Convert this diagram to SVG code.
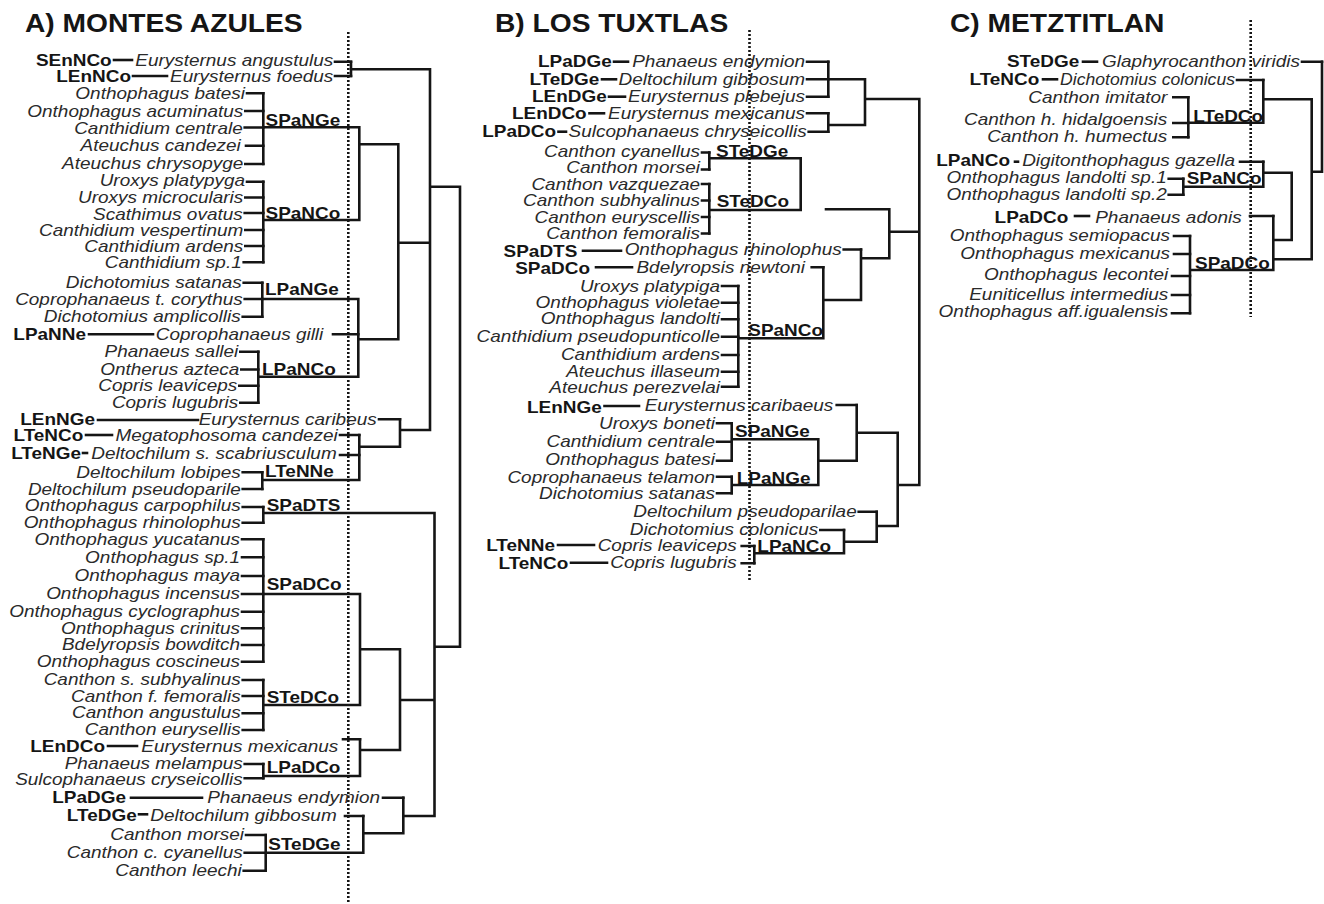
<svg xmlns="http://www.w3.org/2000/svg" width="1324" height="904" viewBox="0 0 1324 904">
<style>
text{font-family:"Liberation Sans",Arial,sans-serif;font-size:16.5px}
.sp{font-style:italic;fill:#2a2a2a;text-anchor:end}
.lb{font-weight:bold;fill:#151515}
.le{text-anchor:end}
.tt{font-weight:bold;font-size:25px;fill:#151515}
.ln{fill:none;stroke:#151515;stroke-width:2.6;stroke-linecap:square}
.dot{fill:none;stroke:#151515;stroke-width:2.6;stroke-dasharray:2 2}
</style>
<rect width="1324" height="904" fill="#fff"/>

<!-- ================= PANEL A ================= -->
<g id="panelA">
<text class="tt" transform="translate(25 32) scale(1.128 1)">A) MONTES AZULES</text>
<path class="dot" d="M348.3 32V904"/>
<g id="A01"><text class="lb le" transform="translate(111.7 65.5) scale(1.149 1)">SEnNCo</text><path class="ln" d="M114 60H132"/><text class="sp" transform="translate(333.3 65.5) scale(1.149 1)">Eurysternus angustulus</text></g>
<g id="A02"><text class="lb le" transform="translate(131 81.7) scale(1.149 1)">LEnNCo</text><path class="ln" d="M133 76H167"/><text class="sp" transform="translate(333.3 81.7) scale(1.149 1)">Eurysternus foedus</text></g>
<g id="A03"><text class="sp" transform="translate(245 98.8) scale(1.149 1)">Onthophagus batesi</text></g>
<g id="A04"><text class="sp" transform="translate(243.3 116.5) scale(1.149 1)">Onthophagus acuminatus</text></g>
<g id="A05"><text class="sp" transform="translate(242.7 133.5) scale(1.149 1)">Canthidium centrale</text></g>
<g id="A06"><text class="sp" transform="translate(240.7 151.2) scale(1.149 1)">Ateuchus candezei</text></g>
<g id="A07"><text class="sp" transform="translate(243.3 168.5) scale(1.149 1)">Ateuchus chrysopyge</text></g>
<g id="A08"><text class="sp" transform="translate(245 186.2) scale(1.149 1)">Uroxys platypyga</text></g>
<g id="A09"><text class="sp" transform="translate(243.3 203) scale(1.149 1)">Uroxys microcularis</text></g>
<g id="A10"><text class="sp" transform="translate(242.7 219.5) scale(1.149 1)">Scathimus ovatus</text></g>
<g id="A11"><text class="sp" transform="translate(243.3 235.5) scale(1.149 1)">Canthidium vespertinum</text></g>
<g id="A12"><text class="sp" transform="translate(243.3 251.5) scale(1.149 1)">Canthidium ardens</text></g>
<g id="A13"><text class="sp" transform="translate(241.7 267.8) scale(1.149 1)">Canthidium sp.1</text></g>
<g id="A14"><text class="sp" transform="translate(241.7 288.2) scale(1.149 1)">Dichotomius satanas</text></g>
<g id="A15"><text class="sp" transform="translate(242.7 304.5) scale(1.149 1)">Coprophanaeus t. corythus</text></g>
<g id="A16"><text class="sp" transform="translate(240.7 322.2) scale(1.149 1)">Dichotomius amplicollis</text></g>
<g id="A17"><text class="lb le" transform="translate(86 339.8) scale(1.149 1)">LPaNNe</text><path class="ln" d="M89 334.3H153"/><text class="sp" transform="translate(323.3 339.8) scale(1.149 1)">Coprophanaeus gilli</text></g>
<g id="A18"><text class="sp" transform="translate(238.3 357.2) scale(1.149 1)">Phanaeus sallei</text></g>
<g id="A19"><text class="sp" transform="translate(239.3 374.5) scale(1.149 1)">Ontherus azteca</text></g>
<g id="A20"><text class="sp" transform="translate(237.3 391.2) scale(1.149 1)">Copris leaviceps</text></g>
<g id="A21"><text class="sp" transform="translate(238.3 408.2) scale(1.149 1)">Copris lugubris</text></g>
<g id="A22"><text class="lb le" transform="translate(95 424.8) scale(1.149 1)">LEnNGe</text><path class="ln" d="M98 420H198"/><text class="sp" transform="translate(376.7 424.8) scale(1.149 1)">Eurysternus caribeus</text></g>
<g id="A23"><text class="lb le" transform="translate(83.3 441) scale(1.149 1)">LTeNCo</text><path class="ln" d="M86 435H112"/><text class="sp" transform="translate(337.7 441) scale(1.149 1)">Megatophosoma candezei</text></g>
<g id="A24"><text class="lb le" transform="translate(81 459) scale(1.149 1)">LTeNGe</text><path class="ln" d="M83 453H87"/><text class="sp" transform="translate(336.7 459) scale(1.149 1)">Deltochilum s. scabriusculum</text></g>
<g id="A25"><text class="sp" transform="translate(240.7 477.8) scale(1.149 1)">Deltochilum lobipes</text></g>
<g id="A26"><text class="sp" transform="translate(240.7 494.5) scale(1.149 1)">Deltochilum pseudoparile</text></g>
<g id="A27"><text class="sp" transform="translate(240.7 511.2) scale(1.149 1)">Onthophagus carpophilus</text></g>
<g id="A28"><text class="sp" transform="translate(240.7 528.2) scale(1.149 1)">Onthophagus rhinolophus</text></g>
<g id="A29"><text class="sp" transform="translate(240 544.8) scale(1.149 1)">Onthophagus yucatanus</text></g>
<g id="A30"><text class="sp" transform="translate(240 562.8) scale(1.149 1)">Onthophagus sp.1</text></g>
<g id="A31"><text class="sp" transform="translate(240 581) scale(1.149 1)">Onthophagus maya</text></g>
<g id="A32"><text class="sp" transform="translate(240 599) scale(1.149 1)">Onthophagus incensus</text></g>
<g id="A33"><text class="sp" transform="translate(240 616.7) scale(1.149 1)">Onthophagus cyclographus</text></g>
<g id="A34"><text class="sp" transform="translate(240 633.5) scale(1.149 1)">Onthophagus crinitus</text></g>
<g id="A35"><text class="sp" transform="translate(240 650.3) scale(1.149 1)">Bdelyropsis bowditch</text></g>
<g id="A36"><text class="sp" transform="translate(240 667.2) scale(1.149 1)">Onthophagus coscineus</text></g>
<g id="A37"><text class="sp" transform="translate(240.7 685) scale(1.149 1)">Canthon s. subhyalinus</text></g>
<g id="A38"><text class="sp" transform="translate(240.7 701.5) scale(1.149 1)">Canthon f. femoralis</text></g>
<g id="A39"><text class="sp" transform="translate(240.7 718.3) scale(1.149 1)">Canthon angustulus</text></g>
<g id="A40"><text class="sp" transform="translate(240.7 734.5) scale(1.149 1)">Canthon eurysellis</text></g>
<g id="A41"><text class="lb le" transform="translate(105 751.5) scale(1.149 1)">LEnDCo</text><path class="ln" d="M108 746H137"/><text class="sp" transform="translate(338.3 751.5) scale(1.149 1)">Eurysternus mexicanus</text></g>
<g id="A42"><text class="sp" transform="translate(242.7 769) scale(1.149 1)">Phanaeus melampus</text></g>
<g id="A43"><text class="sp" transform="translate(242.7 785) scale(1.149 1)">Sulcophanaeus cryseicollis</text></g>
<g id="A44"><text class="lb le" transform="translate(126 803.2) scale(1.149 1)">LPaDGe</text><path class="ln" d="M131 797.7H202"/><text class="sp" transform="translate(380 803.2) scale(1.149 1)">Phanaeus endymion</text></g>
<g id="A45"><text class="lb le" transform="translate(136.7 821) scale(1.149 1)">LTeDGe</text><path class="ln" d="M139 814.3H147"/><text class="sp" transform="translate(336.7 821) scale(1.149 1)">Deltochilum gibbosum</text></g>
<g id="A46"><text class="sp" transform="translate(244 839.5) scale(1.149 1)">Canthon morsei</text></g>
<g id="A47"><text class="sp" transform="translate(242.7 857.5) scale(1.149 1)">Canthon c. cyanellus</text></g>
<g id="A48"><text class="sp" transform="translate(241.7 875.7) scale(1.149 1)">Canthon leechi</text></g>
<g id="A-SPaNGe"><text class="lb" transform="translate(265.5 126) scale(1.149 1)">SPaNGe</text></g>
<g id="A-SPaNCo"><text class="lb" transform="translate(265.5 218.5) scale(1.149 1)">SPaNCo</text></g>
<g id="A-LPaNGe"><text class="lb" transform="translate(265 295) scale(1.149 1)">LPaNGe</text></g>
<g id="A-LPaNCo"><text class="lb" transform="translate(262 375) scale(1.149 1)">LPaNCo</text></g>
<g id="A-LTeNNe"><text class="lb" transform="translate(265 477) scale(1.149 1)">LTeNNe</text></g>
<g id="A-SPaDTS"><text class="lb" transform="translate(266.7 511) scale(1.149 1)">SPaDTS</text></g>
<g id="A-SPaDCo"><text class="lb" transform="translate(266.7 590) scale(1.149 1)">SPaDCo</text></g>
<g id="A-STeDCo"><text class="lb" transform="translate(266.7 702.5) scale(1.149 1)">STeDCo</text></g>
<g id="A-LPaDCo"><text class="lb" transform="translate(266.7 773) scale(1.149 1)">LPaDCo</text></g>
<g id="A-STeDGe"><text class="lb" transform="translate(268.3 850) scale(1.149 1)">STeDGe</text></g>
</g>

<!-- ================= PANEL B ================= -->
<g id="panelB">
<text class="tt" transform="translate(495 32) scale(1.128 1)">B) LOS TUXTLAS</text>
<path class="dot" d="M749.5 30V580"/>
<g id="B01"><text class="lb le" transform="translate(611.7 67) scale(1.149 1)">LPaDGe</text><path class="ln" d="M614 61.7H628"/><text class="sp" transform="translate(805 67) scale(1.149 1)">Phanaeus endymion</text></g>
<g id="B02"><text class="lb le" transform="translate(599.3 84.5) scale(1.149 1)">LTeDGe</text><path class="ln" d="M602 79.3H616"/><text class="sp" transform="translate(805 84.5) scale(1.149 1)">Deltochilum gibbosum</text></g>
<g id="B03"><text class="lb le" transform="translate(606.7 102) scale(1.149 1)">LEnDGe</text><path class="ln" d="M609 96.7H625"/><text class="sp" transform="translate(805 102) scale(1.149 1)">Eurysternus plebejus</text></g>
<g id="B04"><text class="lb le" transform="translate(586.7 118.7) scale(1.149 1)">LEnDCo</text><path class="ln" d="M589.5 113.3H604"/><text class="sp" transform="translate(805 118.7) scale(1.149 1)">Eurysternus mexicanus</text></g>
<g id="B05"><text class="lb le" transform="translate(556 137) scale(1.149 1)">LPaDCo</text><path class="ln" d="M558.5 131.7H566"/><text class="sp" transform="translate(806.7 137) scale(1.149 1)">Sulcophanaeus chryseicollis</text></g>
<g id="B06"><text class="sp" transform="translate(700 156.5) scale(1.149 1)">Canthon cyanellus</text></g>
<g id="B07"><text class="sp" transform="translate(700 173) scale(1.149 1)">Canthon morsei</text></g>
<g id="B08"><text class="sp" transform="translate(700 189.5) scale(1.149 1)">Canthon vazquezae</text></g>
<g id="B09"><text class="sp" transform="translate(700 206) scale(1.149 1)">Canthon subhyalinus</text></g>
<g id="B10"><text class="sp" transform="translate(700 222.5) scale(1.149 1)">Canthon euryscellis</text></g>
<g id="B11"><text class="sp" transform="translate(700 239) scale(1.149 1)">Canthon femoralis</text></g>
<g id="B12"><text class="lb le" transform="translate(577.3 256.5) scale(1.149 1)">SPaDTS</text><path class="ln" d="M583 250.7H621"/><text class="sp" transform="translate(841.7 255) scale(1.149 1)">Onthophagus rhinolophus</text></g>
<g id="B13"><text class="lb le" transform="translate(590 273.8) scale(1.149 1)">SPaDCo</text><path class="ln" d="M596 267.3H632"/><text class="sp" transform="translate(805 272.7) scale(1.149 1)">Bdelyropsis newtoni</text></g>
<g id="B14"><text class="sp" transform="translate(720 291.5) scale(1.149 1)">Uroxys platypiga</text></g>
<g id="B15"><text class="sp" transform="translate(720 307.5) scale(1.149 1)">Onthophagus violetae</text></g>
<g id="B16"><text class="sp" transform="translate(720 324) scale(1.149 1)">Onthophagus landolti</text></g>
<g id="B17"><text class="sp" transform="translate(720 341.7) scale(1.149 1)">Canthidium pseudopunticolle</text></g>
<g id="B18"><text class="sp" transform="translate(720 359.5) scale(1.149 1)">Canthidium ardens</text></g>
<g id="B19"><text class="sp" transform="translate(720 376.5) scale(1.149 1)">Ateuchus illaseum</text></g>
<g id="B20"><text class="sp" transform="translate(720 392.5) scale(1.149 1)">Ateuchus perezvelai</text></g>
<g id="B21"><text class="lb le" transform="translate(601.7 412.5) scale(1.149 1)">LEnNGe</text><path class="ln" d="M604.5 406H639"/><text class="sp" transform="translate(833.3 410.7) scale(1.149 1)">Eurysternus caribaeus</text></g>
<g id="B22"><text class="sp" transform="translate(715 429) scale(1.149 1)">Uroxys boneti</text></g>
<g id="B23"><text class="sp" transform="translate(715 446.5) scale(1.149 1)">Canthidium centrale</text></g>
<g id="B24"><text class="sp" transform="translate(715 464.5) scale(1.149 1)">Onthophagus batesi</text></g>
<g id="B25"><text class="sp" transform="translate(715 482.5) scale(1.149 1)">Coprophanaeus telamon</text></g>
<g id="B26"><text class="sp" transform="translate(715 498.5) scale(1.149 1)">Dichotomius satanas</text></g>
<g id="B27"><text class="sp" transform="translate(856.7 516.7) scale(1.149 1)">Deltochilum pseudoparilae</text></g>
<g id="B28"><text class="sp" transform="translate(818.3 534.5) scale(1.149 1)">Dichotomius colonicus</text></g>
<g id="B29"><text class="lb le" transform="translate(555 551) scale(1.149 1)">LTeNNe</text><path class="ln" d="M558 545H594"/><text class="sp" transform="translate(736.7 550.7) scale(1.149 1)">Copris leaviceps</text></g>
<g id="B30"><text class="lb le" transform="translate(568.3 568.5) scale(1.149 1)">LTeNCo</text><path class="ln" d="M571 562.7H607"/><text class="sp" transform="translate(736.7 567.5) scale(1.149 1)">Copris lugubris</text></g>
<g id="B-STeDGe"><text class="lb" transform="translate(716 156.5) scale(1.149 1)">STeDGe</text></g>
<g id="B-STeDCo"><text class="lb" transform="translate(716.7 206.5) scale(1.149 1)">STeDCo</text></g>
<g id="B-SPaNCo"><text class="lb" transform="translate(748.3 336) scale(1.149 1)">SPaNCo</text></g>
<g id="B-SPaNGe"><text class="lb" transform="translate(735 436.5) scale(1.149 1)">SPaNGe</text></g>
<g id="B-LPaNGe"><text class="lb" transform="translate(736.7 484) scale(1.149 1)">LPaNGe</text></g>
<g id="B-LPaNCo"><text class="lb" transform="translate(757.3 551.7) scale(1.149 1)">LPaNCo</text></g>
</g>

<!-- ================= PANEL C ================= -->
<g id="panelC">
<text class="tt" transform="translate(950 32) scale(1.128 1)">C) METZTITLAN</text>
<path class="dot" d="M1250.7 20V317"/>
<g id="C01"><text class="lb le" transform="translate(1079.3 66.5) scale(1.149 1)">STeDGe</text><path class="ln" d="M1083 61.7H1097"/><text class="sp" transform="translate(1300 66.5) scale(1.149 1)">Glaphyrocanthon viridis</text></g>
<g id="C02"><text class="lb le" transform="translate(1039.3 84.5) scale(1.149 1)">LTeNCo</text><path class="ln" d="M1043 79.3H1057"/><text class="sp" transform="translate(1235 84.5) scale(1.066 1)">Dichotomius colonicus</text></g>
<g id="C03"><text class="sp" transform="translate(1167.3 103) scale(1.149 1)">Canthon imitator</text></g>
<g id="C04"><text class="sp" transform="translate(1167.3 125) scale(1.149 1)">Canthon h. hidalgoensis</text></g>
<g id="C05"><text class="sp" transform="translate(1167.3 141.7) scale(1.149 1)">Canthon h. humectus</text></g>
<g id="C06"><text class="lb le" transform="translate(1010 166) scale(1.149 1)">LPaNCo</text><path class="ln" d="M1015 161.7H1018"/><text class="sp" transform="translate(1235 166) scale(1.149 1)">Digitonthophagus gazella</text></g>
<g id="C07"><text class="sp" transform="translate(1166.7 183) scale(1.149 1)">Onthophagus landolti sp.1</text></g>
<g id="C08"><text class="sp" transform="translate(1166.7 200) scale(1.149 1)">Onthophagus landolti sp.2</text></g>
<g id="C09"><text class="lb le" transform="translate(1068.3 222.5) scale(1.149 1)">LPaDCo</text><path class="ln" d="M1075 216H1089"/><text class="sp" transform="translate(1241.7 222.5) scale(1.149 1)">Phanaeus adonis</text></g>
<g id="C10"><text class="sp" transform="translate(1170 241) scale(1.149 1)">Onthophagus semiopacus</text></g>
<g id="C11"><text class="sp" transform="translate(1170 258.7) scale(1.149 1)">Onthophagus mexicanus</text></g>
<g id="C12"><text class="sp" transform="translate(1168.3 280.3) scale(1.149 1)">Onthophagus lecontei</text></g>
<g id="C13"><text class="sp" transform="translate(1168.3 299.5) scale(1.149 1)">Euniticellus intermedius</text></g>
<g id="C14"><text class="sp" transform="translate(1168.3 317) scale(1.149 1)">Onthophagus aff.igualensis</text></g>
<g id="C-LTeDCo"><text class="lb" transform="translate(1193.3 122) scale(1.149 1)">LTeDCo</text></g>
<g id="C-SPaNCo"><text class="lb" transform="translate(1186.7 183.5) scale(1.149 1)">SPaNCo</text></g>
<g id="C-SPaDCo"><text class="lb" transform="translate(1195 269) scale(1.149 1)">SPaDCo</text></g>
</g>

<!-- ================= CONNECTORS ================= -->
<g id="connectors">
<path class="ln" d="M335 61.7H351M335 76H351M247 93.3H263.3M245.3 111H263.3M244.7 127.5H263.3M246 145.7H263.3M245.3 164H263.3M247 181.7H263.3M245.3 197.5H263.3M244.7 213H263.3M245.3 230H263.3M245.3 246H263.3M243.7 262.3H263.3M243.7 282.7H262.3M244.7 299H262.3M242.7 316.7H262.3M333 334.3H358.3M240.3 351.7H258.3M241.3 369.5H258.3M239.3 385.7H258.3M240.3 402.7H258.3M379 419.3H400M340 435H359.3M340 455H359.3M242.7 472.3H262.3M242.7 489H262.3M242.7 507H263.3M242.7 522.7H263.3M242 539.3H263.3M242 557.3H263.3M242 576H263.3M242 594H263.3M242 611.7H263.3M242 628.3H263.3M242 645H263.3M242 661.7H263.3M242.7 680H263.3M242.7 696H263.3M242.7 713.3H263.3M242.7 730H263.3M343 739.3H360M244.7 764H263.3M244.7 778.3H263.3M383 797.7H403.3M345 816H363.3M246 835H265.7M244.7 852.7H265.7M243.7 870.7H265.7"/>
<path class="ln" d="M351 61.7V76M351 69.3H430M263.3 93.3V164M263.3 127.3H359.3M263.3 181.7V262.3M263.3 220H359.3M359.3 127.3V220M359.3 144.3H398.3M262.3 282.7V316.7M262.3 299H358.3M258.3 351.7V402.7M258.3 376.7H358.3M358.3 299V376.7M358.3 339.3H398.3M398.3 144.3V339.3M398.3 242.7H430M262.3 472.3V489M262.3 480H359.3M359.3 435V480M359.3 446.7H400M400 419.3V446.7M400 430H430M430 69.3V430M430 186.7H460M460 186.7V646.7M263.3 507V522.7M263.3 513H434.5M263.3 539.3V661.7M263.3 594H360M263.3 680V730M263.3 705H360M360 594V705M360 649.3H400M263.3 764V778.3M263.3 776H360M360 739.3V776M360 750H400M400 649.3V750M400 700H434.5M265.7 835V870.7M265.7 852.7H363.3M363.3 816V852.7M363.3 833.3H403.3M403.3 797.7V833.3M403.3 816H434.5M434.5 513V816M434.5 646.7H460"/>
<path class="ln" d="M807 61.7H828.3M807 79.3H828.3M807 96.7H828.3M807 113.3H828.3M808.7 131.7H828.3M702 152.5H709.3M702 169.5H709.3M702 184H709.3M702 200.5H709.3M702 217H709.3M702 233.5H709.3M843.7 249.5H861M811.7 267.3H823.3M722 286H738.3M722 302.7H738.3M722 319.3H738.3M722 336.7H738.3M722 355H738.3M722 371.7H738.3M722 386.7H738.3M836.7 405H856.7M717 423.3H731.7M717 441.7H731.7M717 460.7H731.7M717 476.7H731.7M717 493.3H731.7M858.7 511.7H876.7M820.3 530H844M741.7 546H754.3M741.7 563.3H754.3"/>
<path class="ln" d="M828.3 61.7V96.7M828.3 79.3H865M828.3 113.3V131.7M828.3 125H865M865 79.3V125M865 99H919.3M919.3 99V485M709.3 152.5V169.5M709.3 158.3H800.7M709.3 184V233.5M709.3 210H800.7M800.7 158.3V210M826 209.3H889.3M889.3 209.3V258.3M889.3 231.7H919.3M861 249.5V300M861 258.3H889.3M823.3 267.3V338.3M823.3 300H861M738.3 286V386.7M738.3 338.3H823.3M856.7 405V460.7M856.7 432.7H897.7M731.7 423.3V460.7M731.7 439.3H818.3M731.7 476.7V493.3M731.7 485H818.3M818.3 439.3V485M818.3 460.7H856.7M876.7 511.7V541.7M876.7 526H897.7M844 530V553.3M844 541.7H876.7M754.3 546V563.3M754.3 553.3H844M897.7 432.7V526M897.7 485H919.3"/>
<path class="ln" d="M1302 61.7H1322M1237 80H1263.3M1173.3 97.3H1188.3M1173.3 123H1188.3M1173.3 137.3H1188.3M1240 161.7H1263.3M1168.7 178.7H1183.3M1168.7 194.7H1183.3M1250 216H1273.3M1174 236H1190M1174 254H1190M1172 276H1190M1172 295H1190M1172 313.3H1190"/>
<path class="ln" d="M1188.3 97.3V137.3M1188.3 122.7H1263.3M1263.3 80V122.7M1263.3 99.3H1311.7M1183.3 178.7V194.7M1183.3 186.7H1263.3M1263.3 161.7V186.7M1263.3 172.7H1291.7M1190 236V313.3M1190 270H1273.3M1273.3 216V270M1273.3 240H1291.7M1273.3 259.3H1311.7M1291.7 172.7V240M1311.7 99.3V259.3M1311.7 171.7H1322M1322 61.7V171.7"/>
</g>
</svg>
